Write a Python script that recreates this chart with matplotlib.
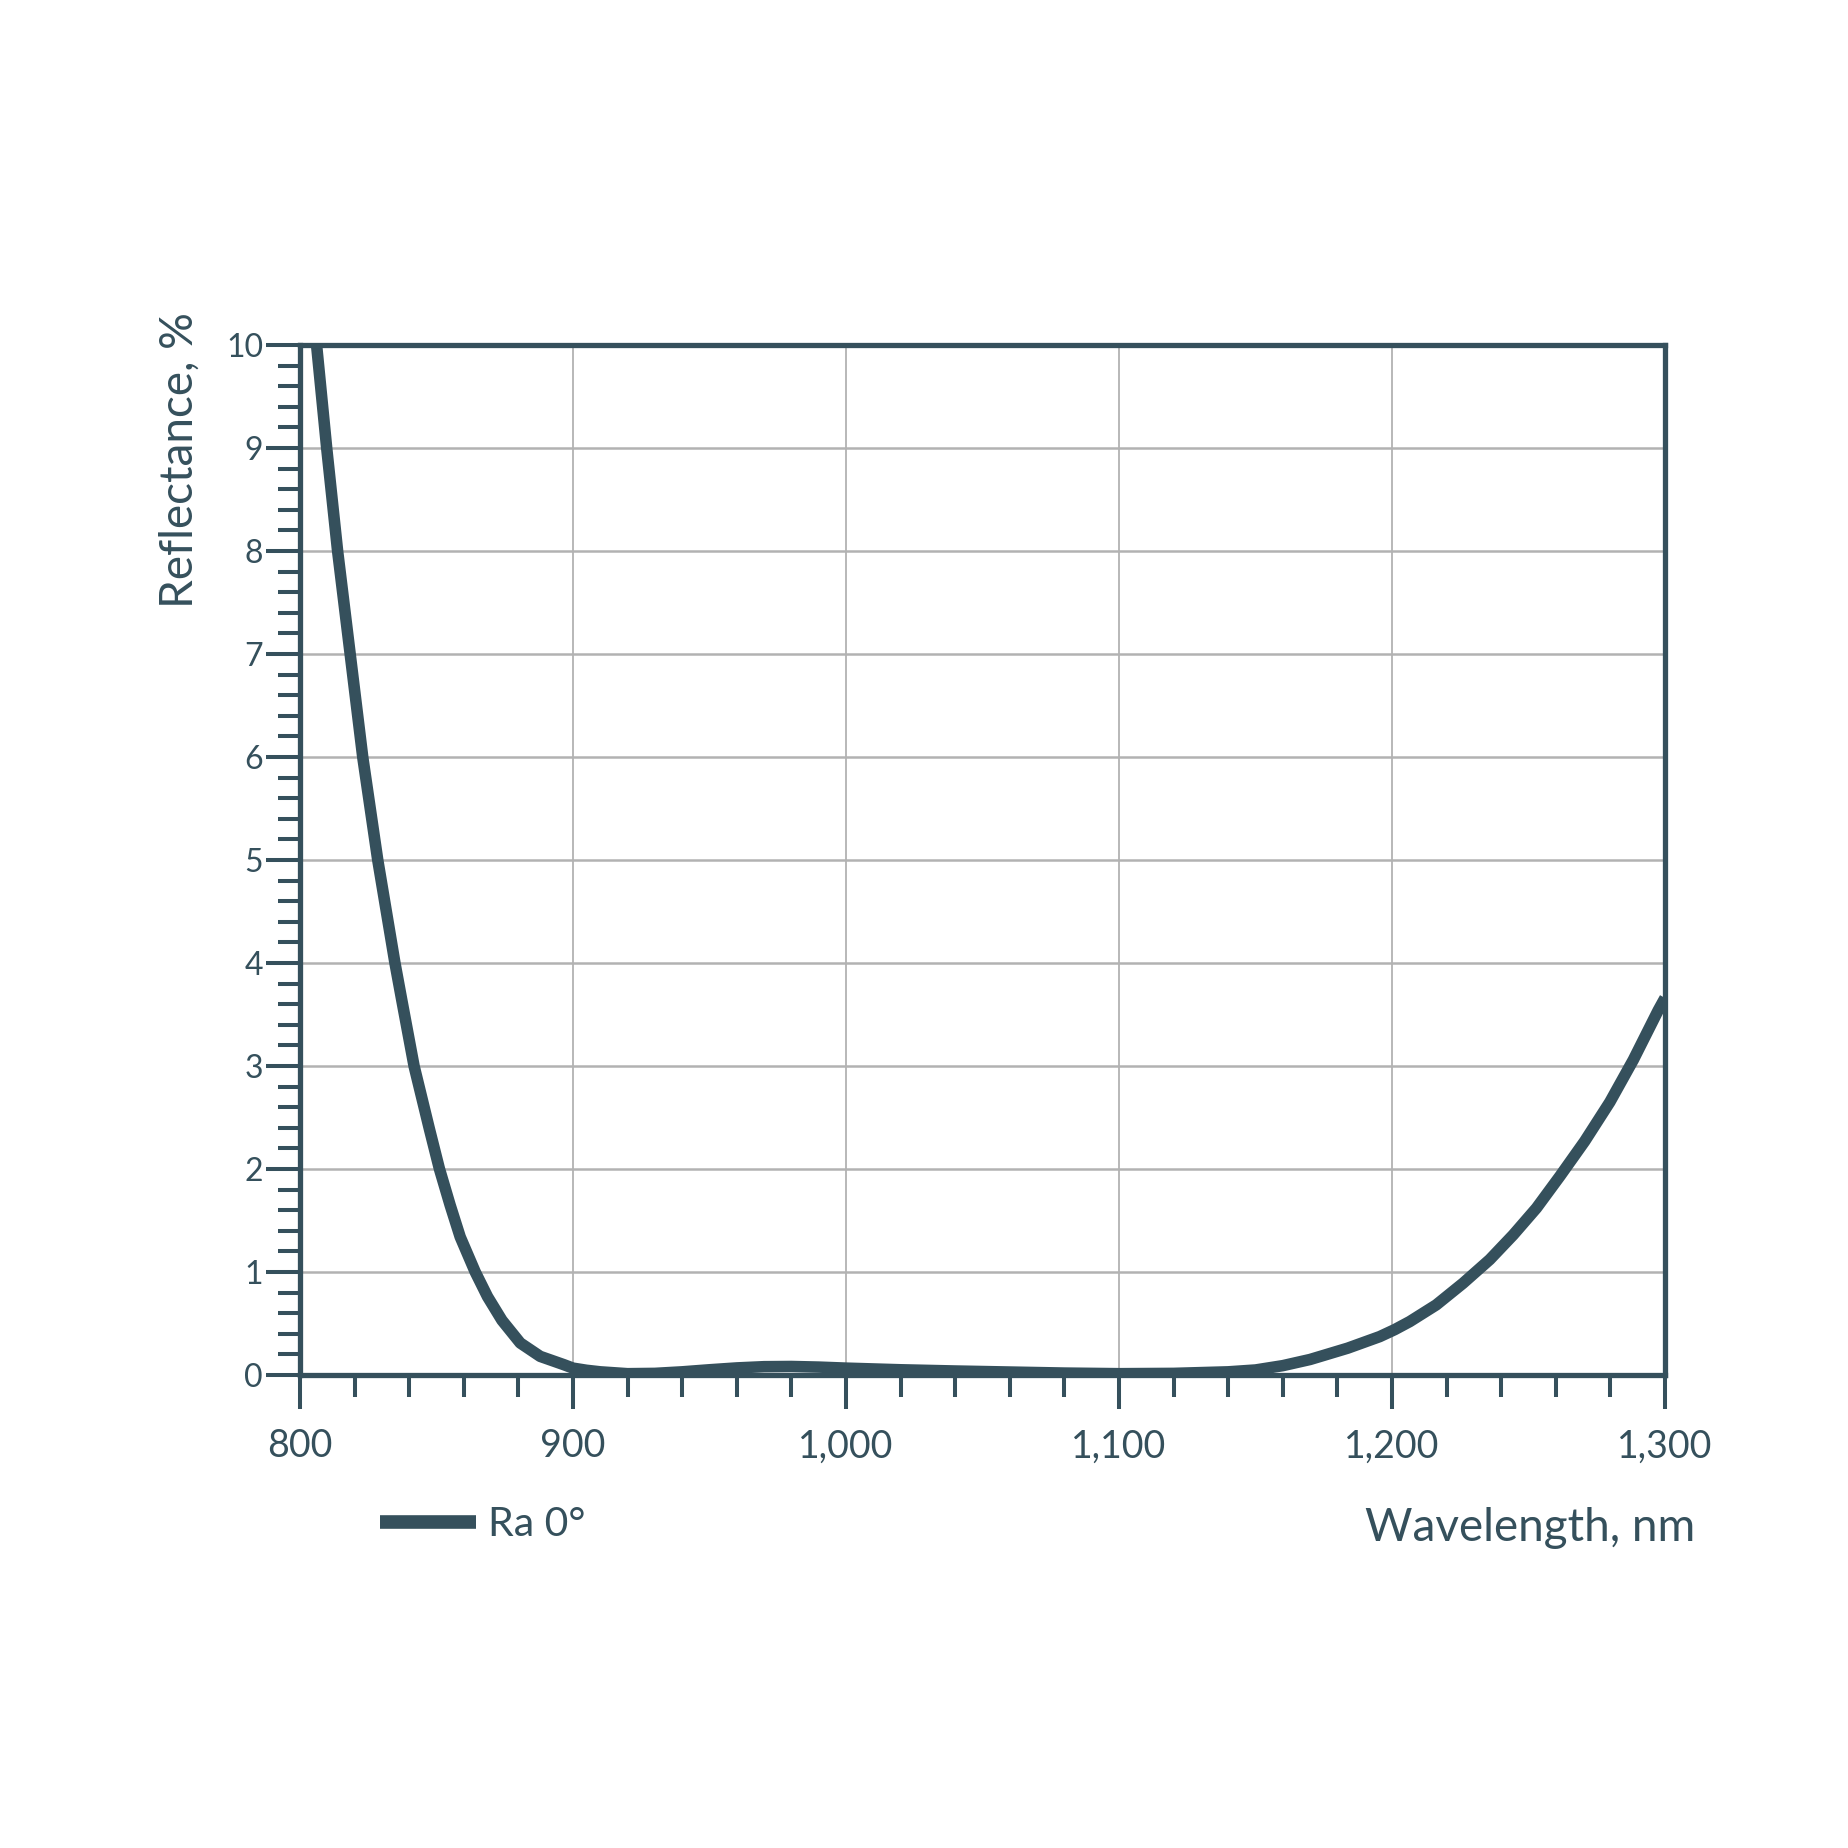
import numpy as np
import matplotlib
matplotlib.use("Agg")
import matplotlib.pyplot as plt
from matplotlib.lines import Line2D
from matplotlib.ticker import MultipleLocator

# ==========================
# Data
# ==========================

wavelength = [806.1, 809.8, 813.8, 818.4, 823.0, 828.5, 834.8, 837.3, 841.8,
              847.4, 851.1, 855.0, 858.7, 864.2, 868.7, 874.0, 880.7, 888.0,
              896.6, 900, 905, 910, 920, 930, 940, 950, 960, 970, 980, 990,
              1000, 1020, 1040, 1060, 1080, 1100, 1120, 1140, 1150, 1160, 1170,
              1183.8, 1195.5, 1201, 1206.5, 1216.2, 1226, 1235.8, 1244.4,
              1252.9, 1261.5, 1270.6, 1279.8, 1288.4, 1297.5, 1300]
reflectance = [10, 9, 8, 7, 6, 5, 4, 3.64, 3.0,
               2.39, 2.0, 1.65, 1.34, 1.0, 0.76, 0.53, 0.31, 0.18,
               0.10, 0.066, 0.045, 0.03, 0.012, 0.015, 0.03, 0.05, 0.068, 0.08, 0.082, 0.076,
               0.066, 0.05, 0.038, 0.028, 0.018, 0.012, 0.015, 0.03, 0.048, 0.09, 0.15,
               0.26, 0.372, 0.44, 0.518, 0.68, 0.89, 1.12, 1.36,
               1.62, 1.93, 2.27, 2.65, 3.06, 3.54, 3.66]

x_ticks = [800, 900, 1000, 1100, 1200, 1300]
x_tick_labels = ["800", "900", "1,000", "1,100", "1,200", "1,300"]
y_ticks = [0, 1, 2, 3, 4, 5, 6, 7, 8, 9, 10]
y_tick_labels = ["0", "1", "2", "3", "4", "5", "6", "7", "8", "9", "10"]

series_name = "Ra 0°"
x_title = "Wavelength, nm"
y_title = "Reflectance, %"

# ==========================
# Style
# ==========================

dark = "#35505c"
grid_gray = "#b2b2b2"
plt.rcParams["font.family"] = ["Lato", "DejaVu Sans"]

fig = plt.figure(figsize=(18.48, 18.48), dpi=100)
ax = fig.add_axes([0.1623, 0.2560, 0.7387, 0.5573])

ax.plot(wavelength, reflectance, color=dark, lw=8.3, solid_capstyle="butt",
        solid_joinstyle="round", zorder=3)

ax.set_xlim(800, 1300)
ax.set_ylim(0, 10)

ax.set_xticks(x_ticks)
ax.set_xticklabels(x_tick_labels)
ax.set_yticks(y_ticks)
ax.set_yticklabels(y_tick_labels)
ax.xaxis.set_minor_locator(MultipleLocator(20))
ax.yaxis.set_minor_locator(MultipleLocator(0.2))

ax.tick_params(axis="both", which="major", direction="out", length=24.5,
               width=2.9, color=dark, labelcolor=dark)
ax.tick_params(axis="both", which="minor", direction="out", length=16,
               width=2.9, color=dark)
ax.tick_params(axis="x", which="major", labelsize=27, pad=14)
ax.tick_params(axis="y", which="major", labelsize=23, pad=2)

for side in ["left", "right", "top", "bottom"]:
    ax.spines[side].set_color(dark)
    ax.spines[side].set_linewidth(3.8)
    ax.spines[side].set_zorder(4)

ax.grid(True, axis="x", which="major", color=grid_gray, lw=1.3, zorder=1)
ax.grid(True, axis="y", which="major", color=grid_gray, lw=1.8, zorder=1)
ax.set_axisbelow(True)

# axis titles
fig.text(0.9172, 0.1661, x_title, ha="right", va="baseline",
         fontsize=33, color=dark)
fig.text(0.0974, 0.8312, y_title, ha="center", va="top", rotation=90,
         fontsize=33, color=dark)

# legend
handle = Line2D([], [], color=dark, lw=9.8, solid_capstyle="butt")
leg = fig.legend([handle], [series_name], loc="center left",
                 bbox_to_anchor=(0.2056, 0.1748), frameon=False,
                 fontsize=29.5, handlelength=2.35, handletextpad=0.28,
                 borderpad=0, borderaxespad=0)
for t in leg.get_texts():
    t.set_color(dark)

fig.savefig("out.png", dpi=100, facecolor="white")
